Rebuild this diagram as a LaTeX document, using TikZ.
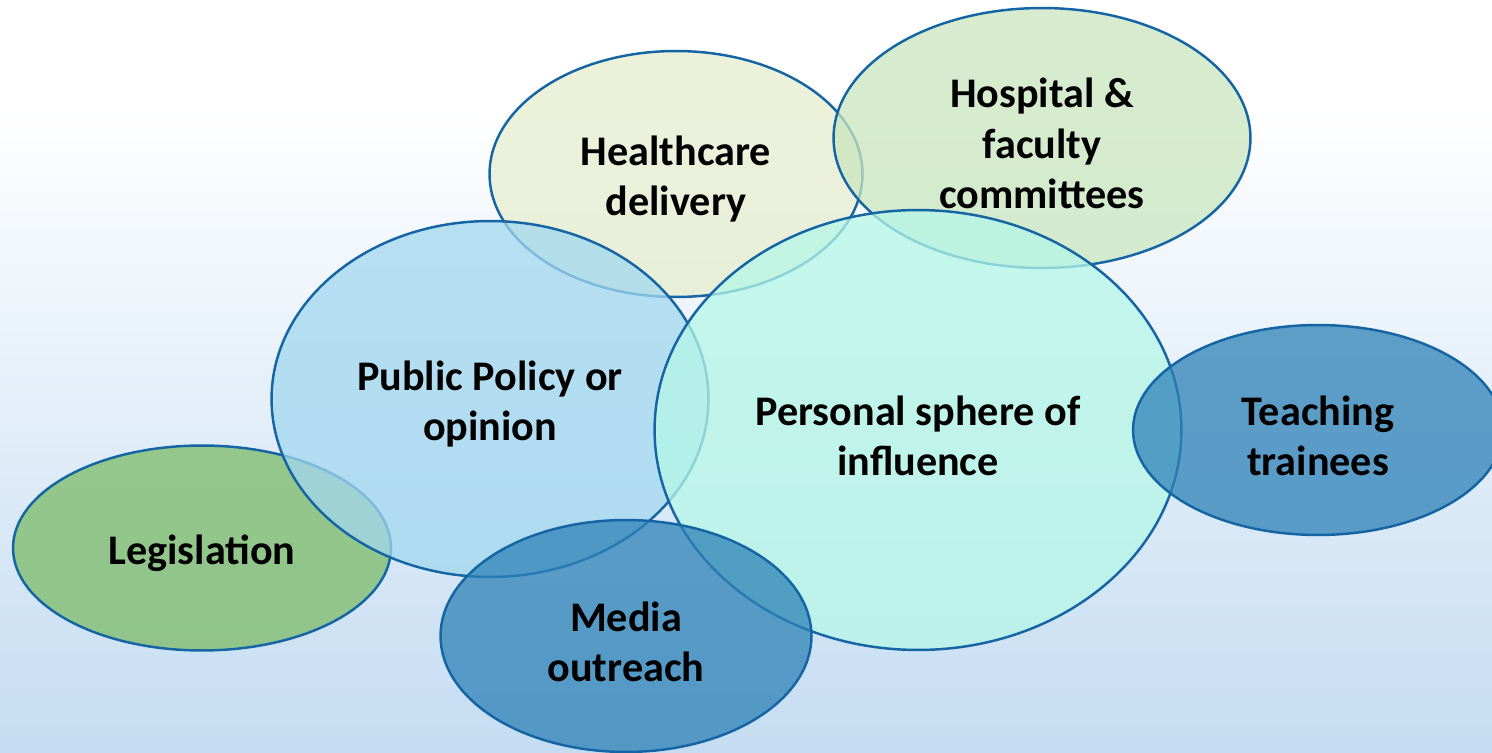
\documentclass[tikz,border=0pt]{standalone}
\usepackage{fontspec}
\setmainfont{Carlito}
\usepackage{xcolor}
\usepackage{tikz}
\usetikzlibrary{shapes.geometric}

\definecolor{rim}{RGB}{21,101,165}
\definecolor{bgblue}{RGB}{196,220,242}
\definecolor{cream}{RGB}{230,237,206}
\definecolor{sage}{RGB}{202,230,191}
\definecolor{sky}{RGB}{162,215,239}
\definecolor{mint}{RGB}{181,247,231}
\definecolor{steel}{RGB}{46,130,183}
\definecolor{leaf}{RGB}{124,187,104}

% raises the first line a little so that the text sits as in the slide
\newcommand{\topline}{\rule{0pt}{23pt}}

\begin{document}
\begin{tikzpicture}[x=0.02cm, y=-0.02cm,
    bubble/.style={ellipse, draw=rim, line width=1.4pt, fill opacity=0.75, text opacity=1,
        align=center, inner sep=0pt, font=\bfseries\fontsize{24}{28.5}\selectfont}]
        % background
        \fill[white] (0,0) rectangle (1492,753);
        \shade[top color=white, bottom color=bgblue] (0,110) rectangle (1492,753);
        \useasboundingbox (0,0) rectangle (1492,753);
        % bubbles, back to front
        \node[bubble, fill=leaf, minimum width=7.56cm, minimum height=4.1cm] (legis) at (202,548) {\topline Legislation};
        \node[bubble, fill=cream, minimum width=7.46cm, minimum height=4.92cm] (health) at (676,174) {\topline Healthcare\\delivery};
        \node[bubble, fill=sage, minimum width=8.34cm, minimum height=5.2cm] (hosp) at (1042,138) {\topline Hospital \&\\faculty\\committees};
        \node[bubble, fill=sky, minimum width=8.74cm, minimum height=7.12cm] (policy) at (490,399) {\topline Public Policy or\\opinion};
        \node[bubble, fill=mint, minimum width=10.54cm, minimum height=8.8cm] (sphere) at (918,430) {\topline Personal sphere of\\influence};
        \node[bubble, fill=steel, minimum width=7.4cm, minimum height=4.2cm] (teach) at (1318,430) {\topline Teaching\\trainees};
        \node[bubble, fill=steel, minimum width=7.42cm, minimum height=4.64cm] (media) at (626,636) {\topline Media\\outreach};
\end{tikzpicture}
\end{document}
